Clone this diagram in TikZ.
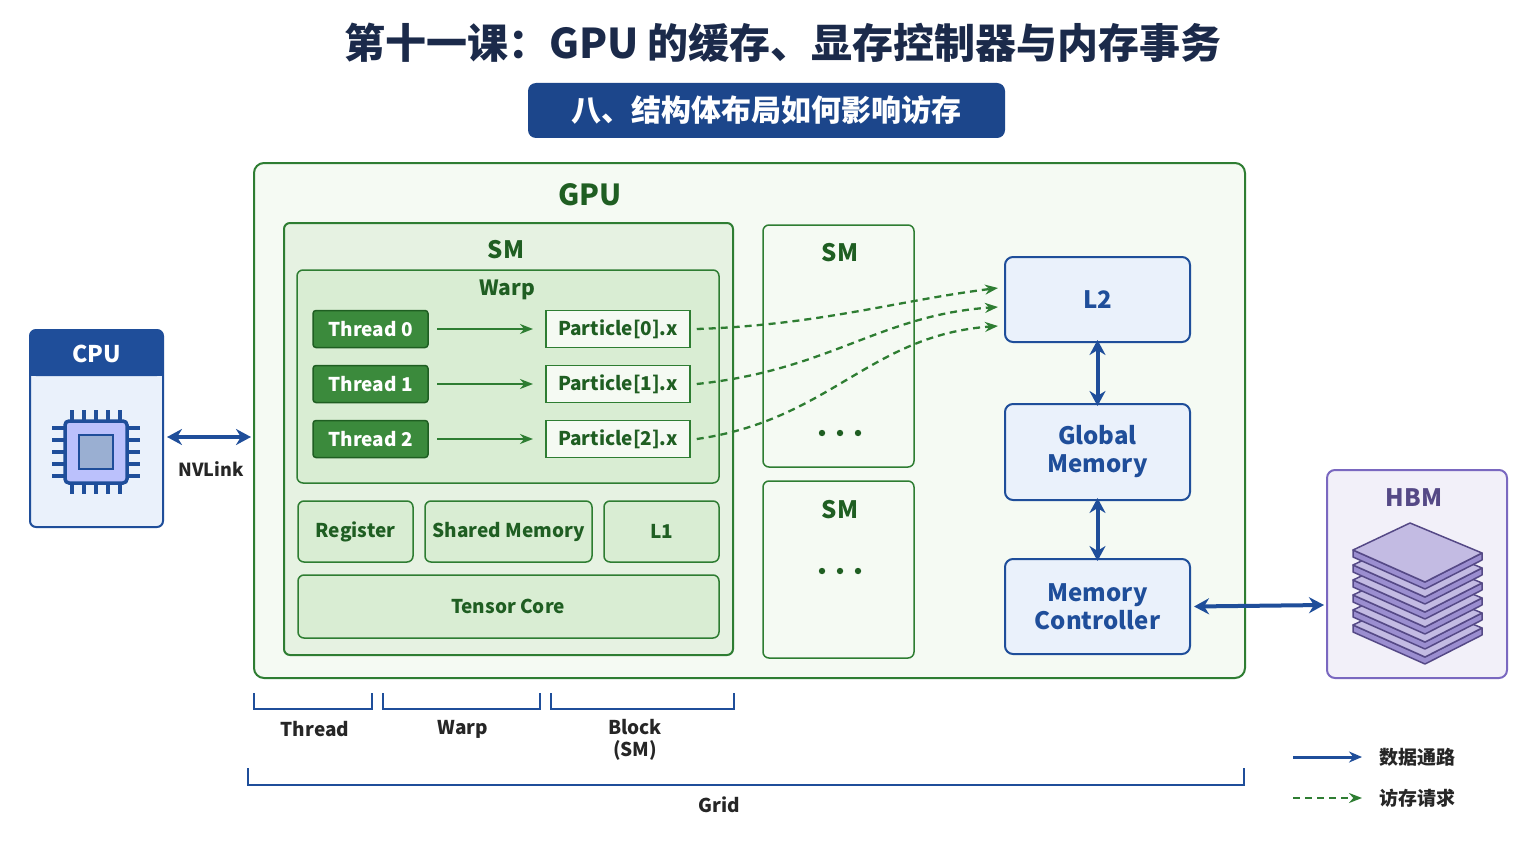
\documentclass[tikz,border=0pt]{standalone}
\usepackage{fontspec}
\setmainfont{Noto Sans CJK SC}
\usetikzlibrary{arrows.meta}
\definecolor{navy}{HTML}{1B2A4A}
\definecolor{bblue}{HTML}{1F4E9A}
\definecolor{bfill}{HTML}{EAF1FB}
\definecolor{gdark}{HTML}{2E7D32}
\definecolor{gtxt}{HTML}{1F5E22}
\definecolor{gbtn}{HTML}{3B8A3C}
\definecolor{gf1}{HTML}{F5FAF3}
\definecolor{gf2}{HTML}{E6F2E2}
\definecolor{gf3}{HTML}{D9EDD3}
\definecolor{purp}{HTML}{7A68C0}
\tikzset{
  box/.style={draw=gdark,line width=2pt,rounded corners=6pt},
  gtext/.style={text=gtxt,font=\bfseries},
  thr/.style={draw=gtxt,fill=gbtn,rounded corners=3pt,line width=1.5pt,minimum width=115pt,minimum height=37pt,text=white,font=\fontsize{19}{19}\selectfont\bfseries},
  part/.style={draw=gdark,fill=gf1,line width=1.5pt,minimum width=144pt,minimum height=37pt,text=gtxt,font=\fontsize{19}{19}\selectfont\bfseries},
  bbox/.style={draw=bblue,fill=bfill,line width=2pt,rounded corners=8pt,minimum width=185pt,text=bblue,font=\fontsize{24}{28}\selectfont\bfseries,align=center},
  garr/.style={-{Stealth[length=13pt,width=10pt]},gdark,line width=2.5pt},
  dasharr/.style={-{Stealth[length=13pt,width=10pt]},gdark,line width=2.3pt,dash pattern=on 7pt off 5pt},
  darr/.style={{Stealth[length=15pt,width=16pt]}-{Stealth[length=15pt,width=16pt]},bblue,line width=4pt},
  brk/.style={bblue,line width=2pt},
  lab/.style={text=black!85,font=\fontsize{19}{22}\selectfont\bfseries,align=center},
}
\begin{document}
\begin{tikzpicture}[x=1pt,y=-1pt]
\useasboundingbox (0,0) rectangle (1536,864);
\fill[white] (0,0) rectangle (1536,864);
\node[text=navy,font=\fontsize{41}{41}\selectfont\bfseries] (title) at (783,43) {第十一课：GPU 的缓存、显存控制器与内存事务};
\node[fill=bblue!90!black,rounded corners=8pt,minimum width=477pt,minimum height=55pt,text=white,font=\fontsize{30}{30}\selectfont\bfseries] (ban) at (766.5,110.5) {八、结构体布局如何影响访存};
% GPU
\draw[box,fill=gf1,rounded corners=10pt] (254,163) rectangle (1245,678);
\node[gtext,font=\fontsize{29}{29}\selectfont\bfseries] (gpu) at (590,195) {GPU};
\draw[box,fill=gf2] (284,223) rectangle (733,655);
\node[gtext,font=\fontsize{24}{24}\selectfont\bfseries] (sm1) at (506,250) {SM};
\draw[box,fill=gf3,line width=1.5pt] (297,270) rectangle (719,483);
\node[gtext,font=\fontsize{21}{21}\selectfont\bfseries] (warp) at (507,290) {Warp};
\foreach \i/\y in {0/329,1/384,2/439}{
  \node[thr] (t\i) at (370.5,\y) {Thread \i};
  \node[part] (p\i) at (618,\y) {Particle[\i].x};
  \coordinate (a\i) at (437,\y); \coordinate (b\i) at (533,\y);
  \draw[garr] (a\i) -- (b\i);
}
\foreach \n/\xa/\xb/\t in {reg/298/413/Register,shm/425/592/Shared Memory,l1/604/719/L1}{
  \draw[box,fill=gf3,line width=1.5pt] (\xa,501) rectangle (\xb,562);
  \node[gtext,font=\fontsize{19}{19}\selectfont\bfseries] (\n) at ({(\xa+\xb)/2},531.5) {\t};
}
\draw[box,fill=gf3,line width=1.5pt] (298,575) rectangle (719,638);
\node[gtext,font=\fontsize{19}{19}\selectfont\bfseries] (tc) at (508,606) {Tensor Core};
\draw[box,fill=gf1,line width=1.5pt] (763,225) rectangle (914,467);
\node[gtext,font=\fontsize{24}{24}\selectfont\bfseries] (sm2) at (840,253) {SM};
\draw[box,fill=gf1,line width=1.5pt] (763,481) rectangle (914,658);
\node[gtext,font=\fontsize{24}{24}\selectfont\bfseries] (sm3) at (840,510) {SM};
\foreach \y/\n in {433/d2,571/d3}{
  \coordinate (\n) at (840,\y);
  \fill[gtxt] (822,\y) circle (3.2pt) (840,\y) circle (3.2pt) (858,\y) circle (3.2pt);
}
% memory
\node[bbox,minimum height=85pt] (l2) at (1097.5,299.5) {L2};
\node[bbox,minimum height=96pt] (gm) at (1097.5,452) {Global\\Memory};
\node[bbox,minimum height=95pt] (mc) at (1097.5,606.5) {Memory\\Controller};
\draw[darr] ([yshift=3pt]l2.south) -- ([yshift=-3pt]gm.north);
\draw[darr] ([yshift=3pt]gm.south) -- ([yshift=-3pt]mc.north);
\coordinate (l2a) at (998,288); \coordinate (l2b) at (998,307); \coordinate (l2c) at (998,326);
\draw[dasharr] ([xshift=6pt]p0.east) .. controls (820,325) and (900,300) .. (l2a);
\draw[dasharr] ([xshift=6pt]p1.east) .. controls (830,370) and (880,315) .. (l2b);
\draw[dasharr] ([xshift=6pt]p2.east) .. controls (830,420) and (870,335) .. (l2c);
% HBM
\draw[draw=purp,fill=purp!10,line width=2pt,rounded corners=8pt] (1327,470) rectangle (1507,678);
\node[text=purp!70!black,font=\fontsize{24}{24}\selectfont\bfseries] (hbm) at (1414,498) {HBM};
\foreach \k in {5,4,3,2,1,0}{
  \pgfmathsetmacro{\yy}{550+\k*15}
  \draw[purp!70!black,fill=purp!75,line width=1.5pt,line join=round] (1353,\yy) -- (1425,\yy+32) -- (1482,\yy+3) -- (1482,\yy+10) -- (1425,\yy+39) -- (1353,\yy+7) -- cycle;
  \draw[purp!70!black,fill=purp!45,line width=1.5pt,line join=round] (1353,\yy) -- (1410,\yy-27) -- (1482,\yy+3) -- (1425,\yy+32) -- cycle;
}
\coordinate (hbml) at (1324,605);
\draw[darr] ([xshift=3pt]mc.east) -- (hbml);
% CPU
\draw[draw=bblue,fill=bfill,line width=2pt,rounded corners=6pt] (30,330) rectangle (163,527);
\fill[bblue,rounded corners=6pt] (30,330) rectangle (163,376);
\fill[bblue] (30,360) rectangle (163,376);
\node[text=white,font=\fontsize{23}{23}\selectfont\bfseries] (cpu) at (96.5,354) {CPU};
\foreach \d in {-24,-12,0,12,24}{
  \draw[bblue,line width=3.5pt] (96+\d,410) -- (96+\d,494);
  \draw[bblue,line width=3.5pt] (52,452+\d) -- (140,452+\d);
}
\draw[bblue,fill=blue!20!bfill,line width=3.5pt,rounded corners=4pt] (65,421) rectangle (127,483);
\draw[bblue,fill=bblue!45,line width=2.5pt] (79,435) rectangle (113,469);
\coordinate (nva) at (167,437); \coordinate (nvb) at (251,437);
\draw[darr] (nva) -- (nvb);
\node[lab,font=\fontsize{18}{18}\selectfont\bfseries] (nvl) at (211,469) {NVLink};
% brackets
\draw[brk] (254,693) -- (254,709) -- (372,709) -- (372,693);
\draw[brk] (383,693) -- (383,709) -- (540,709) -- (540,693);
\draw[brk] (551,693) -- (551,709) -- (734,709) -- (734,693);
\draw[brk] (248,768) -- (248,785) -- (1244,785) -- (1244,768);
\node[lab] (lt) at (315,729) {Thread};
\node[lab] (lw) at (463,729) {Warp};
\node[lab] (lb) at (635,740) {Block\\(SM)};
\node[lab] (lg) at (719,805) {Grid};
% legend
\coordinate (la) at (1293,757); \coordinate (lb2) at (1362,757);
\coordinate (lc) at (1293,798); \coordinate (ld) at (1362,798);
\draw[-{Stealth[length=13pt,width=11pt]},bblue,line width=3pt] (la) -- (lb2);
\draw[dasharr,line width=2.5pt] (lc) -- (ld);
\node[lab,anchor=west,font=\fontsize{19}{19}\selectfont\bfseries] (lg1) at (1376,757) {数据通路};
\node[lab,anchor=west,font=\fontsize{19}{19}\selectfont\bfseries] (lg2) at (1376,798) {访存请求};
\end{tikzpicture}
\end{document}
